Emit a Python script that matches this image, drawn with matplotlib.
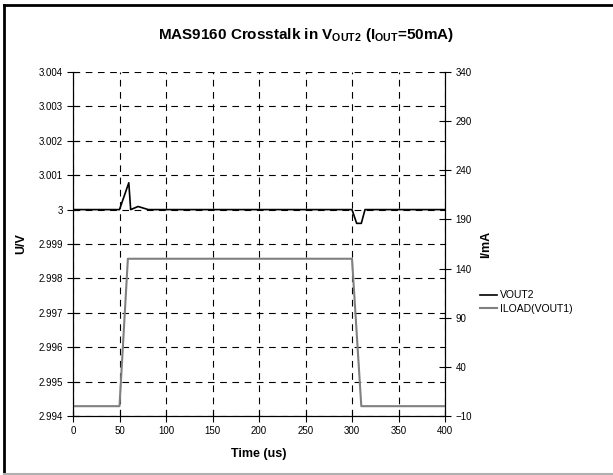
import matplotlib
matplotlib.use("Agg")
import matplotlib.pyplot as plt
from matplotlib.lines import Line2D

plt.rcParams['font.family'] = ['Liberation Sans', 'DejaVu Sans']
plt.rcParams['mathtext.fontset'] = 'custom'
plt.rcParams['mathtext.bf'] = 'Liberation Sans:bold'
plt.rcParams['mathtext.rm'] = 'Liberation Sans'

# VOUT2 (left axis, V)
t_vout = [0, 50, 60, 62, 70, 81, 300, 305, 310, 314, 400]
vout2 = [3.0, 3.0, 3.00078, 3.0, 3.00009, 3.0, 3.0, 2.9996, 2.9996, 3.0, 3.0]

# ILOAD(VOUT1) (right axis, mA)
t_iload = [0, 50, 59, 300, 310, 400]
iload = [0, 0, 150, 150, 0, 0]

x_ticks = [0, 50, 100, 150, 200, 250, 300, 350, 400]
y_ticks = [2.994, 2.995, 2.996, 2.997, 2.998, 2.999, 3.0, 3.001, 3.002, 3.003, 3.004]
y_labels = ['2.994', '2.995', '2.996', '2.997', '2.998', '2.999', '3', '3.001', '3.002', '3.003', '3.004']
i_ticks = [-10, 40, 90, 140, 190, 240, 290, 340]

fig = plt.figure(figsize=(6.13, 4.75), dpi=100)
ax = fig.add_axes([73/613, 1-416/475, (445-73)/613, (416-72)/475])
ax2 = ax.twinx()

l1, = ax.plot(t_vout, vout2, color='black', lw=1.2, label='VOUT2')
l2, = ax2.plot(t_iload, iload, color='#808080', lw=1.5, label='ILOAD(VOUT1)')

ax.set_xlim(0, 400)
ax.set_ylim(2.994, 3.004)
ax2.set_ylim(-10, 340)
ax.set_xticks(x_ticks)
ax.set_yticks(y_ticks)
ax.set_yticklabels(y_labels)
ax2.set_yticks(i_ticks)

ax.grid(True, color='black', ls=(0, (6, 5)), lw=0.8)
for a in (ax, ax2):
    a.tick_params(direction='inout', length=8, width=0.8, labelsize=7, color='black')
    for s in a.spines.values():
        s.set_linewidth(0.8)
ax.spines['top'].set_visible(False)
ax2.spines['top'].set_visible(False)

ax.set_xlabel('Time (us)', fontsize=9, fontweight='bold', labelpad=8)
ax.set_ylabel('U/V', fontsize=9, fontweight='bold', labelpad=8)
ax2.set_ylabel('I/mA', fontsize=9, fontweight='bold', labelpad=6)

fig.text(0.5, 1-35/475, r'MAS9160 Crosstalk in V$_\mathbf{OUT2}$ (I$_\mathbf{OUT}$=50mA)',
         ha='center', va='center', fontsize=11, fontweight='bold')

fig.legend(handles=[l1, l2], loc='upper left', bbox_to_anchor=(476/613, 1-286/475),
           frameon=False, fontsize=7.5, handlelength=1.6, handletextpad=0.3,
           labelspacing=0.35, borderaxespad=0)

# outer frame
fig.add_artist(Line2D([4/613, 4/613], [0, 1-5/475], color='black', lw=2, transform=fig.transFigure))
fig.add_artist(Line2D([4/613, 1], [1-5/475, 1-5/475], color='black', lw=2, transform=fig.transFigure))
fig.add_artist(Line2D([4/613, 1], [1/475, 1/475], color='#b0b0b0', lw=1.5, transform=fig.transFigure))

fig.savefig('out.png', dpi=100)
